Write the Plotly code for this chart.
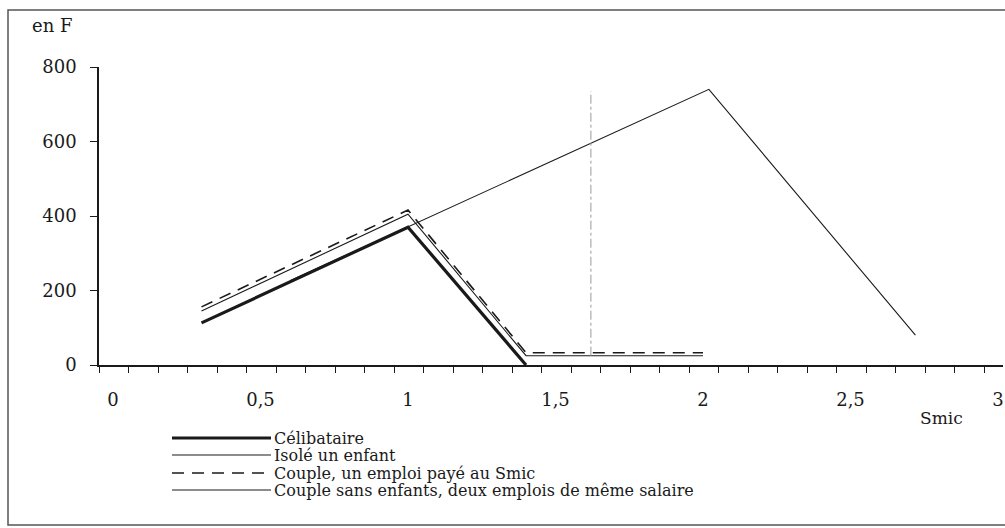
import plotly.graph_objs as go

# values (x in Smic, y in francs)
x_celib = [0.3, 1.0, 1.4]
y_celib = [113, 370, 0]

x_isole = [0.3, 1.0, 1.4, 2.0]
y_isole = [145, 405, 25, 25]

x_couple_un = [0.3, 1.0, 1.4, 2.0]
y_couple_un = [156, 416, 33, 33]

x_couple_deux = [0.6, 2.02, 2.72]
y_couple_deux = [226, 740, 80]

x_repere = [1.62, 1.62]
y_repere = [25, 735]

x_ticks = [0, 0.5, 1, 1.5, 2, 2.5, 3]
x_ticktext = ['0', '0,5', '1', '1,5', '2', '2,5', '3']
y_ticks = [0, 200, 400, 600, 800]

legend_names = ['Célibataire', 'Isolé un enfant', 'Couple, un emploi payé au Smic',
                'Couple sans enfants, deux emplois de même salaire']

W, H = 1005, 528
L, R, T, B = 99, 2, 67, 163
ink = '#1a1a1a'
serif = 'DejaVu Serif'


def px(x):
    return (x - L) / (W - L - R)


def py(y):
    return (H - B - y) / (H - T - B)


styles = [
    dict(color=ink, width=3.2),
    dict(color=ink, width=1.1),
    dict(color=ink, width=1.6, dash='12px,8px'),
    dict(color=ink, width=1.1),
]

data = []
series = [(x_couple_deux, y_couple_deux, 3), (x_isole, y_isole, 1),
          (x_couple_un, y_couple_un, 2), (x_celib, y_celib, 0)]
for xs, ys, i in series:
    data.append(go.Scatter(x=xs, y=ys, mode='lines', name=legend_names[i],
                           line=styles[i], showlegend=False))

data.append(go.Scatter(x=x_repere, y=y_repere, mode='lines', showlegend=False,
                       line=dict(color='#9a9a9a', width=1, dash='dashdot')))

fig = go.Figure(data=data)

shapes = [dict(type='rect', xref='paper', yref='paper',
               x0=px(8), x1=px(1012), y0=py(525), y1=py(10),
               line=dict(color='#555555', width=1.5), layer='below')]
annotations = [
    dict(text='en F', x=px(30), y=py(26), xref='paper', yref='paper',
         xanchor='left', yanchor='middle', showarrow=False,
         font=dict(family=serif, size=18, color=ink)),
    dict(text='Smic', x=px(941), y=py(418), xref='paper', yref='paper',
         xanchor='center', yanchor='middle', showarrow=False,
         font=dict(family=serif, size=17, color=ink)),
]

rows = [438, 455, 473, 490]
for i, name in enumerate(legend_names):
    st = dict(styles[i])
    st['width'] = min(st['width'], 3)
    shapes.append(dict(type='line', xref='paper', yref='paper',
                       x0=px(172), x1=px(271), y0=py(rows[i]), y1=py(rows[i]),
                       line=st))
    annotations.append(dict(text=name, x=px(272), y=py(rows[i]), xref='paper', yref='paper',
                            xanchor='left', yanchor='middle', showarrow=False,
                            font=dict(family=serif, size=16, color=ink)))

fig.update_layout(
    width=W, height=H,
    margin=dict(l=L, r=R, t=T, b=B),
    paper_bgcolor='white', plot_bgcolor='white',
    shapes=shapes, annotations=annotations,
    xaxis=dict(range=[-14 / 295, 890 / 295], tickvals=x_ticks, ticktext=x_ticktext,
               ticks='', showgrid=False, zeroline=False, showline=True,
               linecolor=ink, linewidth=1.6, ticklabelstandoff=18,
               tickfont=dict(family=serif, size=18, color=ink),
               minor=dict(tick0=-14 / 295, dtick=0.1, ticks='outside', ticklen=6,
                          tickwidth=1.4, tickcolor=ink, showgrid=False)),
    yaxis=dict(range=[0, 800], tickvals=y_ticks, ticks='outside', ticklen=7,
               tickwidth=1.4, tickcolor=ink, showgrid=False, zeroline=False,
               showline=True, linecolor=ink, linewidth=1.6, ticklabelstandoff=10,
               tickfont=dict(family=serif, size=18, color=ink)),
)

fig.write_html("out.html", config={'displayModeBar': False},
               post_script="document.body.style.margin='0';")
